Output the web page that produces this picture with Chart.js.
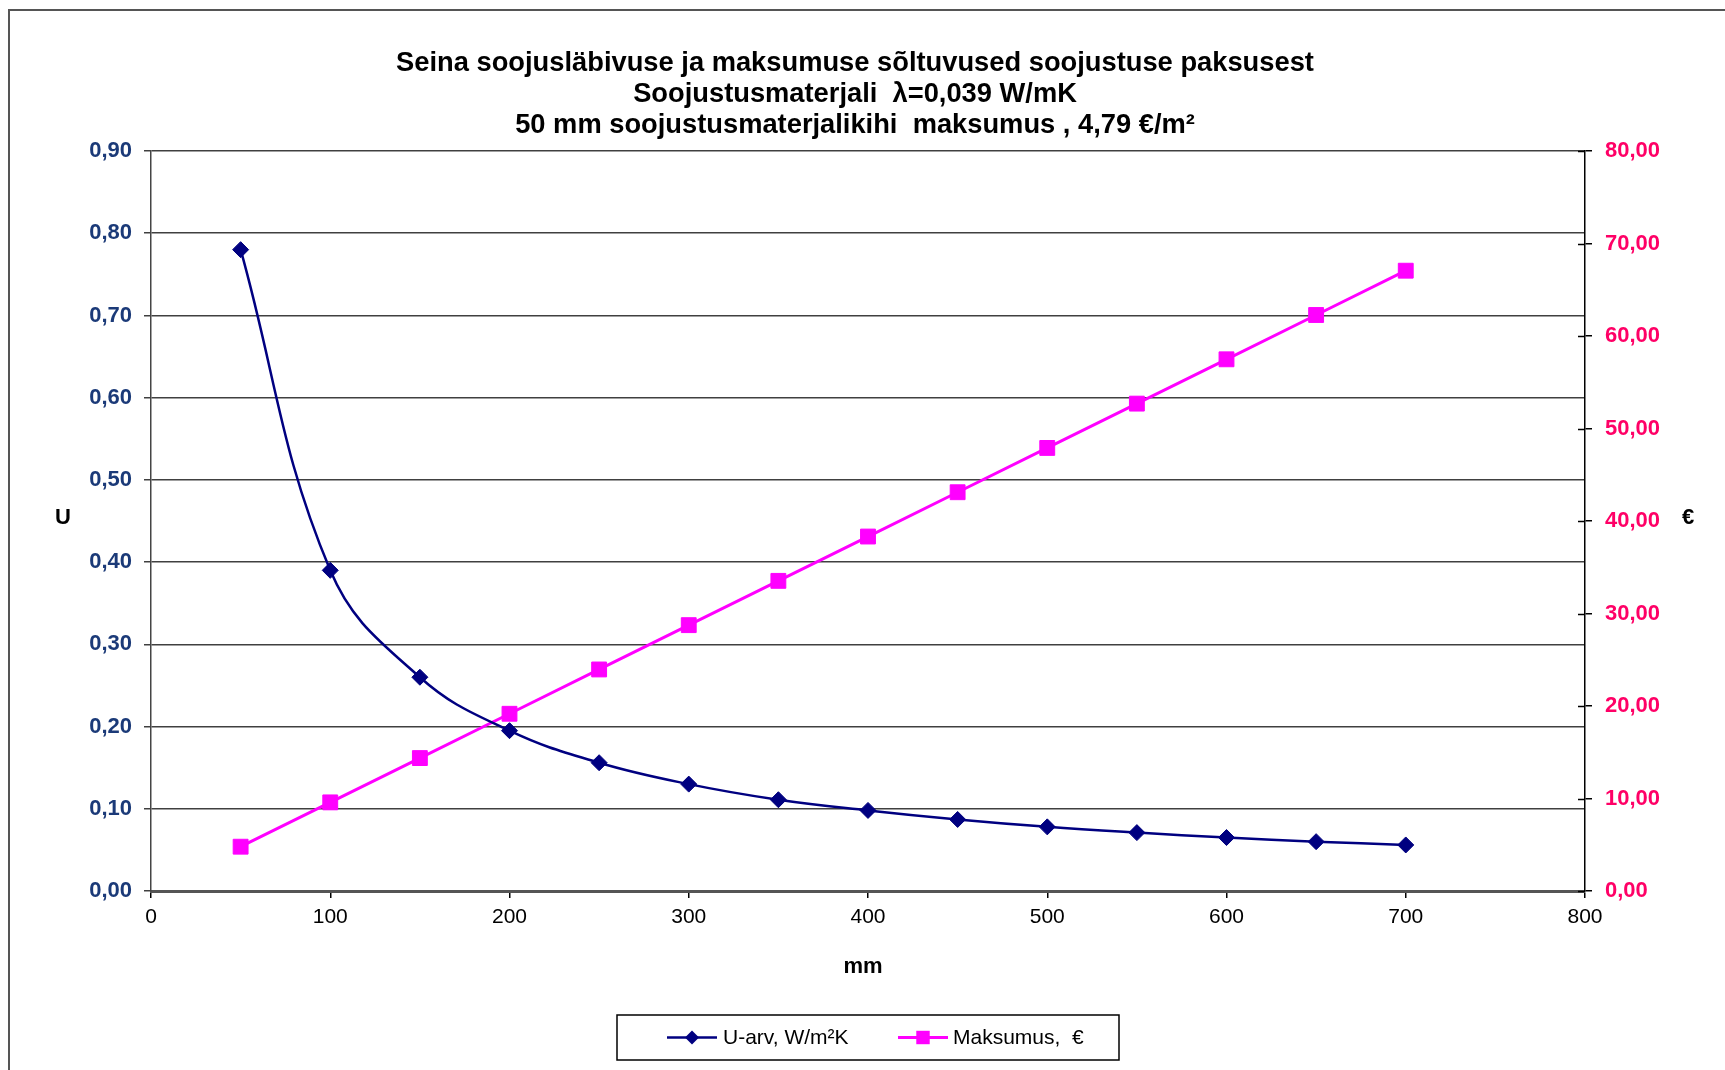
<!DOCTYPE html>
<html lang="et">
<head>
<meta charset="utf-8">
<title>Seina soojusläbivus ja maksumus</title>
<script src="https://cdn.jsdelivr.net/npm/chart.js@4.4.1/dist/chart.umd.min.js"></script>
<style>
  html, body { margin: 0; padding: 0; background: #fff; overflow: hidden; }
  canvas { display: block; }
</style>
</head>
<body>
<canvas id="chart" width="1725" height="1070"></canvas>
<script>
// Insulation thickness, mm
const thicknessMm = [50, 100, 150, 200, 250, 300, 350, 400, 450, 500, 550, 600, 650, 700];
// Wall U-value, W/m²K
const uValue = [0.780, 0.390, 0.260, 0.195, 0.156, 0.130, 0.111, 0.098, 0.087, 0.078, 0.071, 0.065, 0.060, 0.056];
// Insulation cost, €/m²
const costEur = [4.79, 9.58, 14.37, 19.16, 23.95, 28.74, 33.53, 38.32, 43.11, 47.90, 52.69, 57.48, 62.27, 67.06];

const xTickLabels = ['0', '100', '200', '300', '400', '500', '600', '700', '800'];
const uTickLabels = ['0,00', '0,10', '0,20', '0,30', '0,40', '0,50', '0,60', '0,70', '0,80', '0,90'];
const costTickLabels = ['0,00', '10,00', '20,00', '30,00', '40,00', '50,00', '60,00', '70,00', '80,00'];

const titleLines = [
  'Seina soojusläbivuse ja maksumuse sõltuvused soojustuse paksusest',
  'Soojustusmaterjali  λ=0,039 W/mK',
  '50 mm soojustusmaterjalikihi  maksumus , 4,79 €/m²'
];
const seriesNames = ['U-arv, W/m²K', 'Maksumus,  €'];
const axisTitles = { x: 'mm', u: 'U', cost: '€' };

const NAVY = '#000080';
const MAGENTA = '#ff00ff';
const GRID = '#404040';
const FONT = '"Liberation Sans", Arial, sans-serif';

function pairs(xs, ys) {
  return xs.map((x, i) => ({ x: x, y: ys[i] }));
}

function drawMarker(ctx, style, x, y, r, color) {
  ctx.fillStyle = color;
  ctx.beginPath();
  if (style === 'rectRot') {
    ctx.moveTo(x - r, y);
    ctx.lineTo(x, y - r);
    ctx.lineTo(x + r, y);
    ctx.lineTo(x, y + r);
  } else {
    const s = Math.SQRT1_2 * r;
    ctx.rect(x - s, y - s, 2 * s, 2 * s);
  }
  ctx.closePath();
  ctx.fill();
}

// Frame, titles, inner ticks of the cost axis and the boxed legend
const decorations = {
  id: 'decorations',
  beforeDraw(chart) {
    const ctx = chart.ctx;
    ctx.save();
    ctx.fillStyle = '#fff';
    ctx.fillRect(0, 0, chart.width, chart.height);
    ctx.strokeStyle = '#555';
    ctx.lineWidth = 2;
    ctx.beginPath();
    ctx.moveTo(9, chart.height + 2);
    ctx.lineTo(9, 10);
    ctx.lineTo(chart.width + 2, 10);
    ctx.stroke();
    ctx.restore();
  },
  afterDraw(chart) {
    const ctx = chart.ctx;
    const area = chart.chartArea;
    ctx.save();

    // chart title
    ctx.fillStyle = '#000';
    ctx.textAlign = 'center';
    ctx.textBaseline = 'middle';
    ctx.font = 'bold 27.3px ' + FONT;
    titleLines.forEach((line, i) => ctx.fillText(line, 855, 63 + i * 31));

    // axis titles
    ctx.font = 'bold 22px ' + FONT;
    ctx.fillText(axisTitles.u, 63, 518);
    ctx.fillText(axisTitles.cost, 1688, 518);
    ctx.font = 'bold 22px ' + FONT;
    ctx.fillText(axisTitles.x, 863, 967);

    // cost axis ticks cross the axis line
    const y1 = chart.scales.y1;
    ctx.strokeStyle = '#000';
    ctx.lineWidth = 1.5;
    ctx.beginPath();
    y1.ticks.forEach(t => {
      const py = Math.round(y1.getPixelForValue(t.value)) + 0.5;
      ctx.moveTo(area.right - 7, py);
      ctx.lineTo(area.right, py);
    });
    ctx.stroke();

    // legend
    const box = { x: 617, y: 1015, w: 502, h: 45 };
    ctx.strokeStyle = '#000';
    ctx.lineWidth = 1.5;
    ctx.strokeRect(box.x, box.y, box.w, box.h);
    const cy = box.y + box.h / 2;
    const entries = [
      { x0: 667, text: 723 },
      { x0: 898, text: 953 }
    ];
    chart.data.datasets.forEach((ds, i) => {
      const e = entries[i];
      ctx.strokeStyle = ds.borderColor;
      ctx.lineWidth = ds.borderWidth;
      ctx.beginPath();
      ctx.moveTo(e.x0, cy);
      ctx.lineTo(e.x0 + 50, cy);
      ctx.stroke();
      drawMarker(ctx, ds.pointStyle, e.x0 + 25, cy, ds.pointStyle === 'rect' ? 9.5 : 7, ds.pointBackgroundColor);
      ctx.fillStyle = '#000';
      ctx.textAlign = 'left';
      ctx.textBaseline = 'middle';
      ctx.font = '21px ' + FONT;
      ctx.fillText(ds.label, e.text, cy + 1);
    });

    ctx.restore();
  }
};

new Chart(document.getElementById('chart'), {
  type: 'line',
  data: {
    datasets: [
      {
        label: seriesNames[0],
        data: pairs(thicknessMm, uValue),
        yAxisID: 'y',
        borderColor: NAVY,
        borderWidth: 2.5,
        tension: 0.4,
        pointStyle: 'rectRot',
        pointRadius: 8,
        pointBackgroundColor: NAVY,
        pointBorderColor: NAVY,
        pointBorderWidth: 1,
        fill: false
      },
      {
        label: seriesNames[1],
        data: pairs(thicknessMm, costEur),
        yAxisID: 'y1',
        borderColor: MAGENTA,
        borderWidth: 3,
        tension: 0,
        pointStyle: 'rect',
        pointRadius: 10.5,
        pointBackgroundColor: MAGENTA,
        pointBorderColor: MAGENTA,
        pointBorderWidth: 1,
        fill: false
      }
    ]
  },
  options: {
    responsive: false,
    animation: false,
    devicePixelRatio: 1,
    layout: { padding: { top: 151, right: 0, bottom: 0, left: 0 } },
    plugins: {
      legend: { display: false },
      title: { display: false },
      tooltip: { enabled: false }
    },
    scales: {
      x: {
        type: 'linear',
        min: 0,
        max: 800,
        ticks: {
          stepSize: 100,
          padding: 7,
          color: '#000',
          font: { family: FONT, size: 21 },
          maxRotation: 0,
          callback: (v, i) => xTickLabels[i]
        },
        grid: {
          drawOnChartArea: false,
          drawTicks: true,
          tickLength: 7,
          color: '#000',
          lineWidth: 1.5
        },
        border: { display: true, color: '#555', width: 3 },
        afterFit: s => { s.height = 179; }
      },
      y: {
        type: 'linear',
        position: 'left',
        min: 0,
        max: 0.9,
        ticks: {
          stepSize: 0.1,
          padding: 12,
          color: '#1b3a78',
          font: { family: FONT, size: 22, weight: 'bold' },
          callback: (v, i) => uTickLabels[i]
        },
        grid: {
          drawOnChartArea: true,
          drawTicks: true,
          tickLength: 7,
          color: GRID,
          lineWidth: 1.5
        },
        border: { display: true, color: '#444', width: 1.5 },
        afterFit: s => { s.width = 151; }
      },
      y1: {
        type: 'linear',
        position: 'right',
        min: 0,
        max: 80,
        ticks: {
          stepSize: 10,
          padding: 13,
          color: '#ff0066',
          font: { family: FONT, size: 22, weight: 'bold' },
          callback: (v, i) => costTickLabels[i]
        },
        grid: {
          drawOnChartArea: false,
          drawTicks: true,
          tickLength: 7,
          color: '#000',
          lineWidth: 1.5
        },
        border: { display: true, color: '#000', width: 1.5 },
        afterFit: s => { s.width = 140; }
      }
    }
  },
  plugins: [decorations]
});
</script>
</body>
</html>
